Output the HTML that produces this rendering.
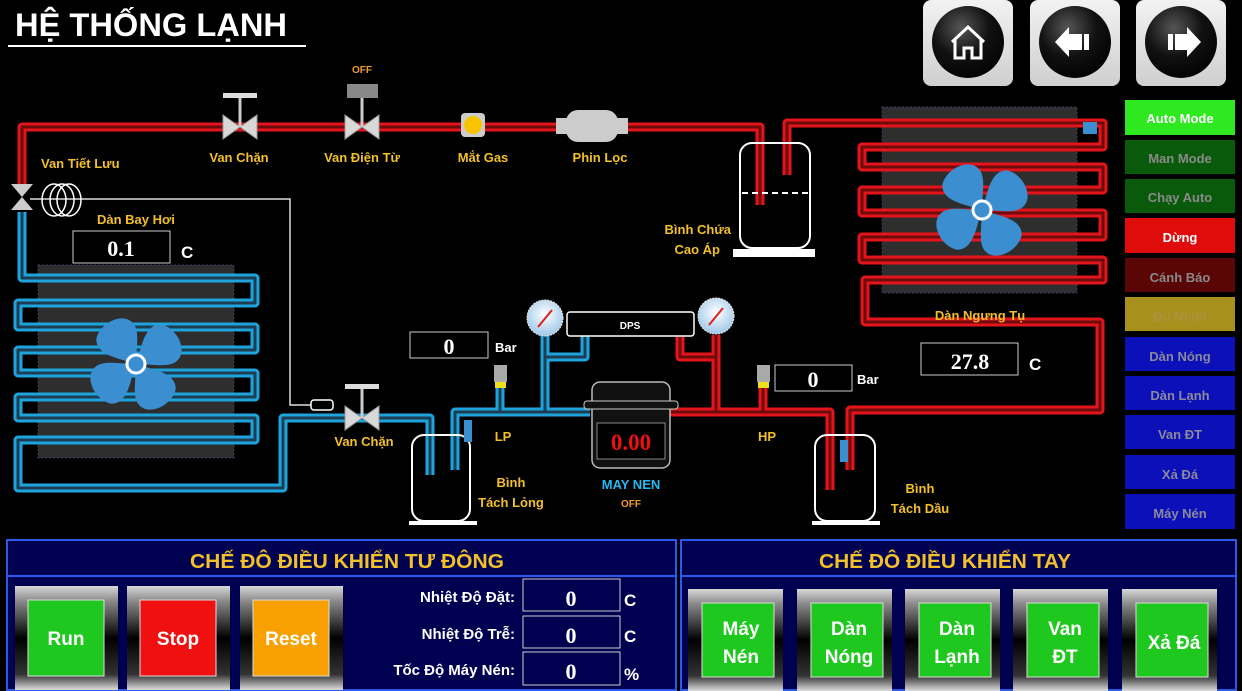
<!DOCTYPE html>
<html><head><meta charset="utf-8"><style>
html,body{margin:0;padding:0;background:#000;width:1242px;height:691px;overflow:hidden}
svg{display:block}
text{font-family:"Liberation Sans",sans-serif;font-weight:bold}
.lab{fill:#f2c02a;font-size:13px}
.num{font-family:"Liberation Serif",serif;font-weight:bold;fill:#fff;font-size:22px}
.wt{fill:#fff}
</style></head><body>
<svg width="1242" height="691" viewBox="0 0 1242 691" xmlns="http://www.w3.org/2000/svg">
<defs>
<linearGradient id="nav" x1="0" y1="0" x2="0" y2="1"><stop offset="0" stop-color="#f2f2f2"/><stop offset="1" stop-color="#cfcfcf"/></linearGradient>
<radialGradient id="ball" cx="0.4" cy="0.3" r="0.8"><stop offset="0" stop-color="#555"/><stop offset="0.5" stop-color="#111"/><stop offset="1" stop-color="#000"/></radialGradient>
<linearGradient id="frame" x1="0" y1="0" x2="0" y2="1"><stop offset="0" stop-color="#d8d8d8"/><stop offset="0.15" stop-color="#888"/><stop offset="0.5" stop-color="#000"/><stop offset="0.85" stop-color="#333"/><stop offset="1" stop-color="#ddd"/></linearGradient>
<radialGradient id="gauge" cx="0.5" cy="0.4" r="0.6"><stop offset="0" stop-color="#fff"/><stop offset="1" stop-color="#9fc8e8"/></radialGradient>
<g id="blade"><path d="M0,0 C-8,-14 -26,-32 -14,-45 C0,-55 24,-48 24,-33 C24,-22 10,-12 0,0Z" fill="#3b8fd0"/></g>
<g id="valve"><polygon points="-17,-12 0,0 -17,12" fill="#d8d8d8" stroke="#999"/><polygon points="17,-12 0,0 17,12" fill="#d8d8d8" stroke="#999"/></g>
</defs>

<!-- Title -->
<text x="15" y="36" class="wt" font-size="32" textLength="272" lengthAdjust="spacingAndGlyphs">HỆ THỐNG LẠNH</text>
<rect x="8" y="45" width="298" height="2" fill="#fff"/>

<!-- Nav buttons -->
<rect x="923" y="0" width="90" height="86" rx="8" fill="url(#nav)"/>
<rect x="1030" y="0" width="90" height="86" rx="8" fill="url(#nav)"/>
<rect x="1136" y="0" width="90" height="86" rx="8" fill="url(#nav)"/>
<circle cx="968" cy="42" r="36" fill="url(#ball)"/>
<circle cx="1075" cy="42" r="36" fill="url(#ball)"/>
<circle cx="1181" cy="42" r="36" fill="url(#ball)"/>
<path d="M952,42 L968,27 L984,42 M955,40 V58 H964 V48 H972 V58 H981 V40" fill="none" stroke="#fff" stroke-width="3"/>
<path d="M1055,42 L1069,27 V34 H1082 V50 H1069 V57Z" fill="#fff"/><rect x="1084" y="34" width="5" height="16" fill="#fff"/>
<path d="M1201,42 L1187,27 V34 H1175 V50 H1187 V57Z" fill="#fff"/><rect x="1168" y="34" width="5" height="16" fill="#fff"/>

<!-- coil backgrounds -->
<rect x="38" y="265" width="196" height="193" fill="#2e2e2e" stroke="#3a3a6a" stroke-dasharray="2 2"/>
<rect x="882" y="107" width="195" height="186" fill="#2e2e2e" stroke="#3a3a6a" stroke-dasharray="2 2"/>

<!-- Blue pipes -->
<g fill="none" stroke-linejoin="round">
<g stroke="#1ea4dc" stroke-width="9">
<path d="M22,212 V278 H255 V303 H18 V327 H255 V350 H18 V373 H255 V397 H18 V418 H255 V440 H18 V488 H283 V418 H430 V475"/>
<path d="M455,470 V412 H590 M500,412 V385 M545,412 V335 M545,357 H585 V336"/>
</g>
<g stroke="#1d3d52" stroke-width="3">
<path d="M22,212 V278 H255 V303 H18 V327 H255 V350 H18 V373 H255 V397 H18 V418 H255 V440 H18 V488 H283 V418 H430 V475"/>
<path d="M455,470 V412 H590 M500,412 V385 M545,412 V335 M545,357 H585 V336"/>
</g>
<!-- Red pipes -->
<g stroke="#e3141c" stroke-width="9">
<path d="M22,185 V127 H760 V205"/>
<path d="M787,175 V123 H1103 V147 H862 V167 H1103 V190 H862 V213 H1103 V237 H862 V260 H1103 V280 H865 V322 H1100 V410 H850 V470"/>
<path d="M670,412 H830 V490 M763,412 V385 M716,412 V335 M716,357 H680 V336"/>
</g>
<g stroke="#6e0c0c" stroke-width="3">
<path d="M22,185 V127 H760 V205"/>
<path d="M787,175 V123 H1103 V147 H862 V167 H1103 V190 H862 V213 H1103 V237 H862 V260 H1103 V280 H865 V322 H1100 V410 H850 V470"/>
<path d="M670,412 H830 V490 M763,412 V385 M716,412 V335 M716,357 H680 V336"/>
</g>
</g>

<!-- Fans -->
<g transform="translate(136,364) rotate(-40)"><use href="#blade"/><use href="#blade" transform="rotate(90)"/><use href="#blade" transform="rotate(180)"/><use href="#blade" transform="rotate(270)"/><circle r="9" fill="#3b8fd0" stroke="#fff" stroke-width="3"/></g>
<g transform="translate(982,210) rotate(-40)"><use href="#blade"/><use href="#blade" transform="rotate(90)"/><use href="#blade" transform="rotate(180)"/><use href="#blade" transform="rotate(270)"/><circle r="9" fill="#3b8fd0" stroke="#fff" stroke-width="3"/></g>

<!-- valves -->
<g transform="translate(240,127)"><use href="#valve"/><rect x="-1.5" y="-30" width="3" height="30" fill="#ccc"/><rect x="-17" y="-34" width="34" height="5" fill="#ddd"/></g>
<g transform="translate(362,127)"><use href="#valve"/><rect x="-1.5" y="-30" width="3" height="30" fill="#ccc"/><rect x="-15" y="-43" width="31" height="14" fill="#888"/></g>
<g transform="translate(362,418)"><use href="#valve"/><rect x="-1.5" y="-30" width="3" height="30" fill="#ccc"/><rect x="-17" y="-34" width="34" height="5" fill="#ddd"/></g>
<g transform="translate(22,197)"><polygon points="-11,-13 11,-13 0,0" fill="#ccc"/><polygon points="-11,13 11,13 0,0" fill="#ccc"/></g>
<!-- expansion bulb line -->
<path d="M30,199 H290 V405 H311" fill="none" stroke="#ddd" stroke-width="1.5"/>
<ellipse cx="54" cy="200" rx="12" ry="16" fill="none" stroke="#fff" stroke-width="1.5"/>
<ellipse cx="62" cy="200" rx="12" ry="16" fill="none" stroke="#fff" stroke-width="1.5"/>
<ellipse cx="69" cy="200" rx="12" ry="16" fill="none" stroke="#fff" stroke-width="1.5"/>
<rect x="311" y="400" width="22" height="10" rx="3" fill="#000" stroke="#fff" stroke-width="1.5"/>

<!-- Mat gas / phin loc -->
<rect x="461" y="113" width="24" height="24" rx="4" fill="#ccc"/><circle cx="473" cy="125" r="9" fill="#f8c400"/>
<rect x="556" y="118" width="72" height="16" fill="#ccc"/><rect x="566" y="110" width="52" height="32" rx="12" fill="#ccc"/>

<!-- Binh chua -->
<rect x="740" y="143" width="70" height="105" rx="12" fill="none" stroke="#fff" stroke-width="2"/>
<line x1="742" y1="193" x2="808" y2="193" stroke="#fff" stroke-width="2" stroke-dasharray="6 4"/>
<rect x="733" y="249" width="82" height="8" fill="#fff"/>
<!-- Tach long -->
<rect x="412" y="435" width="58" height="86" rx="12" fill="none" stroke="#fff" stroke-width="2"/>
<rect x="409" y="521" width="68" height="4" fill="#fff"/>
<rect x="464" y="420" width="8" height="22" fill="#3a8fd0"/>
<!-- Tach dau -->
<rect x="815" y="435" width="60" height="86" rx="12" fill="none" stroke="#fff" stroke-width="2"/>
<rect x="812" y="521" width="68" height="4" fill="#fff"/>
<rect x="840" y="440" width="8" height="22" fill="#3a8fd0"/>
<rect x="1083" y="122" width="14" height="12" fill="#3a8fd0"/>

<!-- sensors -->
<rect x="494" y="365" width="13" height="17" fill="#aaa"/><rect x="495" y="382" width="11" height="6" fill="#f0e020"/>
<rect x="757" y="365" width="13" height="17" fill="#aaa"/><rect x="758" y="382" width="11" height="6" fill="#f0e020"/>
<!-- gauges -->
<circle cx="545" cy="318" r="18" fill="url(#gauge)" stroke="#eee" stroke-dasharray="2 1"/><line x1="538" y1="327" x2="552" y2="310" stroke="#e02020" stroke-width="2"/>
<circle cx="716" cy="316" r="18" fill="url(#gauge)" stroke="#eee" stroke-dasharray="2 1"/><line x1="709" y1="325" x2="723" y2="308" stroke="#e02020" stroke-width="2"/>
<rect x="567" y="312" width="127" height="24" rx="3" fill="#000" stroke="#fff" stroke-width="1.5"/>
<text x="630" y="329" class="wt" font-size="10" text-anchor="middle">DPS</text>

<!-- compressor -->
<rect x="592" y="382" width="78" height="86" rx="8" fill="#111" stroke="#bbb" stroke-width="1.5"/>
<rect x="584" y="401" width="94" height="8" rx="3" fill="#111" stroke="#ccc"/>
<rect x="597" y="423" width="68" height="36" fill="#000" stroke="#888"/>
<text x="631" y="450" text-anchor="middle" font-size="23" fill="#f01010" style="font-family:'Liberation Serif',serif">0.00</text>

<!-- displays -->
<rect x="73" y="231" width="97" height="32" fill="#000" stroke="#ccc"/><text x="121" y="256" class="num" text-anchor="middle">0.1</text><text x="181" y="258" class="wt" font-size="17">C</text>
<rect x="921" y="343" width="97" height="32" fill="#000" stroke="#ccc"/><text x="970" y="369" class="num" text-anchor="middle">27.8</text><text x="1029" y="370" class="wt" font-size="17">C</text>
<rect x="410" y="332" width="78" height="26" fill="#000" stroke="#ccc"/><text x="449" y="354" class="num" text-anchor="middle" font-size="20">0</text><text x="495" y="352" class="wt" font-size="13">Bar</text>
<rect x="775" y="365" width="77" height="26" fill="#000" stroke="#ccc"/><text x="813" y="387" class="num" text-anchor="middle" font-size="20">0</text><text x="857" y="384" class="wt" font-size="13">Bar</text>

<!-- labels -->
<text x="362" y="73" fill="#f29a30" font-size="10" text-anchor="middle">OFF</text>
<text x="239" y="162" class="lab" text-anchor="middle">Van Chặn</text>
<text x="362" y="162" class="lab" text-anchor="middle">Van Điện Từ</text>
<text x="483" y="162" class="lab" text-anchor="middle">Mắt Gas</text>
<text x="600" y="162" class="lab" text-anchor="middle">Phin Lọc</text>
<text x="41" y="168" class="lab">Van Tiết Lưu</text>
<text x="97" y="224" class="lab">Dàn Bay Hơi</text>
<text x="364" y="446" class="lab" text-anchor="middle">Van Chặn</text>
<text x="731" y="234" class="lab" text-anchor="end">Bình Chứa</text>
<text x="720" y="254" class="lab" text-anchor="end">Cao Áp</text>
<text x="980" y="320" class="lab" text-anchor="middle">Dàn Ngưng Tụ</text>
<text x="503" y="441" class="lab" text-anchor="middle">LP</text>
<text x="767" y="441" class="lab" text-anchor="middle">HP</text>
<text x="511" y="487" class="lab" text-anchor="middle">Bình</text>
<text x="511" y="507" class="lab" text-anchor="middle">Tách Lỏng</text>
<text x="920" y="493" class="lab" text-anchor="middle">Bình</text>
<text x="920" y="513" class="lab" text-anchor="middle">Tách Dầu</text>
<text x="631" y="489" fill="#28b8f0" font-size="13" text-anchor="middle">MAY NEN</text>
<text x="631" y="507" fill="#f29a30" font-size="10" text-anchor="middle">OFF</text>

<!-- status buttons -->
<g font-size="13" text-anchor="middle">
<rect x="1125" y="100" width="110" height="35" fill="#2ee820"/><text x="1180" y="123" fill="#fff">Auto Mode</text>
<rect x="1125" y="140" width="110" height="34" fill="#0a5a0c"/><text x="1180" y="163" fill="#8a8a8a">Man Mode</text>
<rect x="1125" y="179" width="110" height="34" fill="#0a5a0c"/><text x="1180" y="202" fill="#8a8a8a">Chạy Auto</text>
<rect x="1125" y="218" width="110" height="35" fill="#e00c0c"/><text x="1180" y="242" fill="#fff">Dừng</text>
<rect x="1125" y="258" width="110" height="34" fill="#5a0606"/><text x="1180" y="282" fill="#8a8a8a">Cánh Báo</text>
<rect x="1125" y="297" width="110" height="34" fill="#a8901c"/><text x="1180" y="321" fill="#b09040">Đủ Nhiệt</text>
<rect x="1125" y="337" width="110" height="34" fill="#0c10b8"/><text x="1180" y="361" fill="#8a8a9a">Dàn Nóng</text>
<rect x="1125" y="376" width="110" height="34" fill="#0c10b8"/><text x="1180" y="400" fill="#8a8a9a">Dàn Lạnh</text>
<rect x="1125" y="415" width="110" height="34" fill="#0c10b8"/><text x="1180" y="439" fill="#8a8a9a">Van ĐT</text>
<rect x="1125" y="455" width="110" height="34" fill="#0c10b8"/><text x="1180" y="479" fill="#8a8a9a">Xả Đá</text>
<rect x="1125" y="494" width="110" height="35" fill="#0c10b8"/><text x="1180" y="518" fill="#8a8a9a">Máy Nén</text>
</g>

<!-- bottom panels -->
<rect x="7" y="540" width="669" height="150" fill="#000050" stroke="#2a5ae8" stroke-width="2"/>
<line x1="7" y1="576" x2="676" y2="576" stroke="#2a5ae8" stroke-width="2"/>
<text x="347" y="568" fill="#f2c02a" font-size="20" text-anchor="middle" textLength="314" lengthAdjust="spacingAndGlyphs">CHẾ ĐÔ ĐIỀU KHIỂN TƯ ĐÔNG</text>
<rect x="681" y="540" width="555" height="150" fill="#000050" stroke="#2a5ae8" stroke-width="2"/>
<line x1="681" y1="576" x2="1236" y2="576" stroke="#2a5ae8" stroke-width="2"/>
<text x="945" y="568" fill="#f2c02a" font-size="20" text-anchor="middle" textLength="252" lengthAdjust="spacingAndGlyphs">CHẾ ĐÔ ĐIỀU KHIỂN TAY</text>

<g font-size="19" fill="#fff" text-anchor="middle">
<rect x="15" y="586" width="103" height="104" fill="url(#frame)"/><rect x="28" y="600" width="76" height="76" fill="#1ec81e" stroke="#ddd"/><text x="66" y="645">Run</text>
<rect x="127" y="586" width="103" height="104" fill="url(#frame)"/><rect x="140" y="600" width="76" height="76" fill="#f01010" stroke="#ddd"/><text x="178" y="645">Stop</text>
<rect x="240" y="586" width="103" height="104" fill="url(#frame)"/><rect x="253" y="600" width="76" height="76" fill="#f8a000" stroke="#ddd"/><text x="291" y="645">Reset</text>
</g>
<g font-size="15" fill="#fff" text-anchor="end">
<text x="515" y="602">Nhiệt Độ Đặt:</text>
<text x="515" y="639">Nhiệt Độ Trễ:</text>
<text x="515" y="675">Tốc Độ Máy Nén:</text>
</g>
<rect x="523" y="579" width="97" height="32" fill="#000050" stroke="#ccc"/><text x="571" y="606" class="num" text-anchor="middle">0</text>
<rect x="523" y="616" width="97" height="32" fill="#000050" stroke="#ccc"/><text x="571" y="643" class="num" text-anchor="middle">0</text>
<rect x="523" y="652" width="97" height="33" fill="#000050" stroke="#ccc"/><text x="571" y="679" class="num" text-anchor="middle">0</text>
<g class="wt" font-size="17"><text x="624" y="606">C</text><text x="624" y="642">C</text><text x="624" y="680">%</text></g>

<g font-size="19" fill="#fff" text-anchor="middle">
<rect x="688" y="589" width="95" height="102" fill="url(#frame)"/><rect x="702" y="603" width="72" height="74" fill="#1ec81e" stroke="#ddd"/><text x="741" y="635">Máy</text><text x="741" y="663">Nén</text>
<rect x="797" y="589" width="95" height="102" fill="url(#frame)"/><rect x="811" y="603" width="72" height="74" fill="#1ec81e" stroke="#ddd"/><text x="849" y="635">Dàn</text><text x="849" y="663">Nóng</text>
<rect x="905" y="589" width="95" height="102" fill="url(#frame)"/><rect x="919" y="603" width="72" height="74" fill="#1ec81e" stroke="#ddd"/><text x="957" y="635">Dàn</text><text x="957" y="663">Lạnh</text>
<rect x="1013" y="589" width="95" height="102" fill="url(#frame)"/><rect x="1027" y="603" width="72" height="74" fill="#1ec81e" stroke="#ddd"/><text x="1065" y="635">Van</text><text x="1065" y="663">ĐT</text>
<rect x="1122" y="589" width="95" height="102" fill="url(#frame)"/><rect x="1136" y="603" width="72" height="74" fill="#1ec81e" stroke="#ddd"/><text x="1174" y="649">Xả Đá</text>
</g>
</svg>
</body></html>
